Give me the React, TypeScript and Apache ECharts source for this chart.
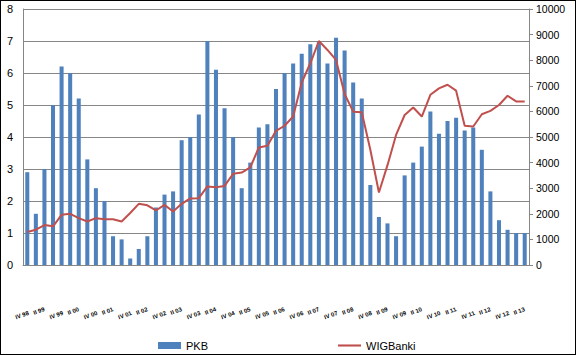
import React, { useEffect, useRef } from "react";
import * as echarts from "echarts";

const categories = [
  "IV 98",
  "I 99", "II 99", "III 99", "IV 99",
  "I 00", "II 00", "III 00", "IV 00",
  "I 01", "II 01", "III 01", "IV 01",
  "I 02", "II 02", "III 02", "IV 02",
  "I 03", "II 03", "III 03", "IV 03",
  "I 04", "II 04", "III 04", "IV 04",
  "I 05", "II 05", "III 05", "IV 05",
  "I 06", "II 06", "III 06", "IV 06",
  "I 07", "II 07", "III 07", "IV 07",
  "I 08", "II 08", "III 08", "IV 08",
  "I 09", "II 09", "III 09", "IV 09",
  "I 10", "II 10", "III 10", "IV 10",
  "I 11", "II 11", "III 11", "IV 11",
  "I 12", "II 12", "III 12", "IV 12",
  "I 13", "II 13",
];

const pkb = [
  2.9, 1.6, 3.0, 5.0, 6.2, 6.0, 5.2, 3.3, 2.4, 2.0,
  0.9, 0.8, 0.2, 0.5, 0.9, 1.8, 2.2, 2.3, 3.9, 4.0,
  4.7, 7.0, 6.1, 4.9, 4.0, 2.4, 3.2, 4.3, 4.4, 5.5,
  6.0, 6.3, 6.6, 6.9, 7.0, 6.3, 7.1, 6.7, 5.7, 5.2,
  2.5, 1.5, 1.3, 0.9, 2.8, 3.2, 3.7, 4.8, 4.1, 4.5,
  4.6, 4.2, 4.3, 3.6, 2.3, 1.4, 1.1, 1.0, 1.0,
];

const wigBanki = [
  1290, 1380, 1560, 1510, 1960, 2000, 1830, 1700, 1830, 1790,
  1790, 1700, 2030, 2390, 2330, 2130, 2350, 2090, 2390, 2600,
  2610, 3070, 3040, 3090, 3560, 3610, 3810, 4590, 4660, 5240,
  5440, 5800, 7130, 7880, 8750, 8400, 8010, 6680, 5990, 5970,
  4500, 2830, 3900, 5080, 5860, 6150, 5800, 6650, 6900, 7040,
  6810, 5440, 5410, 5890, 6020, 6250, 6610, 6390, 6390,
];

const leftTicks = { min: 0, max: 8, interval: 1 };
const rightTicks = { min: 0, max: 10000, interval: 1000 };

export default function App() {
  const ref = useRef<HTMLDivElement>(null);

  useEffect(() => {
    if (!ref.current) return;
    const chart = echarts.init(ref.current, undefined, { renderer: "svg" });
    const font = "'Liberation Sans', Arial, sans-serif";
    chart.setOption({
      animation: false,
      textStyle: { fontFamily: font },
      grid: { left: 22, right: 46, top: 8, bottom: 89, containLabel: false },
      legend: {
        left: 152,
        top: 334,
        itemGap: 130,
        itemWidth: 23,
        itemHeight: 7,
        textStyle: { fontSize: 11, color: "#000", fontFamily: font },
        data: [
          { name: "PKB", icon: "rect" },
          {
            name: "WIGBanki",
            icon: "path://M0,0 L22,0 L22,2 L0,2 Z",
            itemStyle: { color: "#C0504D" },
          },
        ],
      },
      xAxis: {
        type: "category",
        data: categories,
        boundaryGap: true,
        axisLine: { lineStyle: { color: "#868686", width: 1 } },
        axisTick: { show: false },
        axisLabel: {
          interval: 1,
          fontSize: 6,
          color: "#000",
          rotate: 20,
          margin: 44,
          formatter: (v: string, i: number) =>
            i % 4 === 0 ? `{a|${v}}` : `{b|${v}}`,
          rich: {
            a: { fontSize: 6, padding: [8, 0, 0, 0], fontWeight: "bold" },
            b: { fontSize: 6, fontWeight: "bold" },
          },
        },
      },
      yAxis: [
        {
          type: "value",
          min: leftTicks.min,
          max: leftTicks.max,
          interval: leftTicks.interval,
          axisLine: { show: true, lineStyle: { color: "#868686" } },
          axisTick: { show: false },
          axisLabel: { fontSize: 11, color: "#000", margin: 10 },
          splitLine: { lineStyle: { color: "#868686", width: 1 } },
        },
        {
          type: "value",
          min: rightTicks.min,
          max: rightTicks.max,
          interval: rightTicks.interval,
          position: "right",
          axisLine: { show: true, lineStyle: { color: "#868686" } },
          axisTick: { show: true, length: 4, lineStyle: { color: "#868686" } },
          axisLabel: {
            fontSize: 10.5,
            color: "#000",
            margin: 7,
            formatter: (v: number) => String(v),
          },
          splitLine: { show: false },
        },
      ],
      series: [
        {
          name: "PKB",
          type: "bar",
          data: pkb,
          yAxisIndex: 0,
          barWidth: "47%",
          itemStyle: { color: "#4F81BD" },
        },
        {
          name: "WIGBanki",
          type: "line",
          data: wigBanki,
          yAxisIndex: 1,
          symbol: "none",
          lineStyle: { color: "#C0504D", width: 2 },
          itemStyle: { color: "#C0504D" },
        },
      ],
    });
    return () => chart.dispose();
  }, []);

  return (
    <div
      style={{
        position: "fixed",
        left: 0,
        top: 0,
        width: 576,
        height: 355,
        boxSizing: "border-box",
        border: "1px solid #000",
        background: "#fff",
      }}
    >
      <div ref={ref} style={{ width: 574, height: 353 }} />
    </div>
  );
}
